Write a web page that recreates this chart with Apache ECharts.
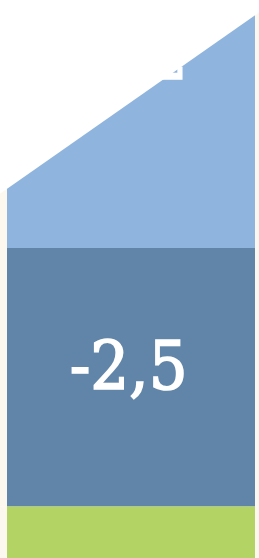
<!DOCTYPE html>
<html>
<head>
<meta charset="utf-8">
<script src="https://cdn.jsdelivr.net/npm/echarts@6/dist/echarts.min.js"></script>
<style>
  html, body { margin: 0; padding: 0; background: #ffffff; }
  #container { width: 259px; height: 558px; }
</style>
</head>
<body>
<div id="container"></div>
<script>
// x positions of the two visible edges (the chart is cropped)
var xs = [-0.03, 1.017];
var greenValues = [0.5, 0.5];
var darkValues = [2.5, 2.5];
var lightValues = [0.526, 2.28];
var labels = ['-3,2', '-2,5'];
var colors = ['#b3d364', '#6185a8', '#8fb4dd'];
var faded = '#fcf7ef';

var dom = document.getElementById('container');
var chart = echarts.init(dom, null, { renderer: 'canvas' });

// value first so that stacking happens on the y dimension
function pairs(values) {
    return values.map(function (v, i) { return [v, xs[i]]; });
}

function makeSeries(name, values, idx, label) {
    var s = {
        name: name,
        type: 'line',
        stack: 'total',
        data: pairs(values),
        encode: { x: 1, y: 0 },
        showSymbol: false,
        symbol: 'none',
        silent: true,
        lineStyle: { width: 0, opacity: 0 },
        areaStyle: { opacity: 1 },
        z: 2
    };
    if (label) {
        s.markPoint = {
            symbol: 'circle',
            symbolSize: 0,
            silent: true,
            data: [{ coord: label.coord, value: label.text }],
            label: {
                show: true,
                position: 'inside',
                formatter: label.text,
                color: '#ffffff',
                fontFamily: 'DejaVu Serif Condensed',
                fontSize: 68,
                textBorderColor: '#ffffff',
                textBorderWidth: 1.6
            },
            z: 10
        };
    }
    return s;
}

var pieces = function (c) {
    return [
        { lt: 0, color: faded },
        { gte: 0, lte: 1, color: c },
        { gt: 1, color: faded }
    ];
};

var option = {
    animation: false,
    backgroundColor: '#ffffff',
    grid: { left: 0, right: 0, top: 0, bottom: 0 },
    xAxis: {
        type: 'value',
        min: -0.03,
        max: 1.017,
        show: false
    },
    yAxis: {
        type: 'value',
        min: 0,
        max: 5.4,
        show: false
    },
    visualMap: [0, 1, 2].map(function (i) {
        return {
            type: 'piecewise',
            show: false,
            dimension: 1,
            seriesIndex: i,
            pieces: pieces(colors[i])
        };
    }),
    series: [
        makeSeries('green', greenValues, 0),
        makeSeries('dark', darkValues, 1, { coord: [0.49, 1.81], text: labels[1] }),
        makeSeries('light', lightValues, 2, { coord: [0.49, 4.81], text: labels[0] })
    ]
};

chart.setOption(option);
window.addEventListener('resize', chart.resize);
</script>
</body>
</html>
